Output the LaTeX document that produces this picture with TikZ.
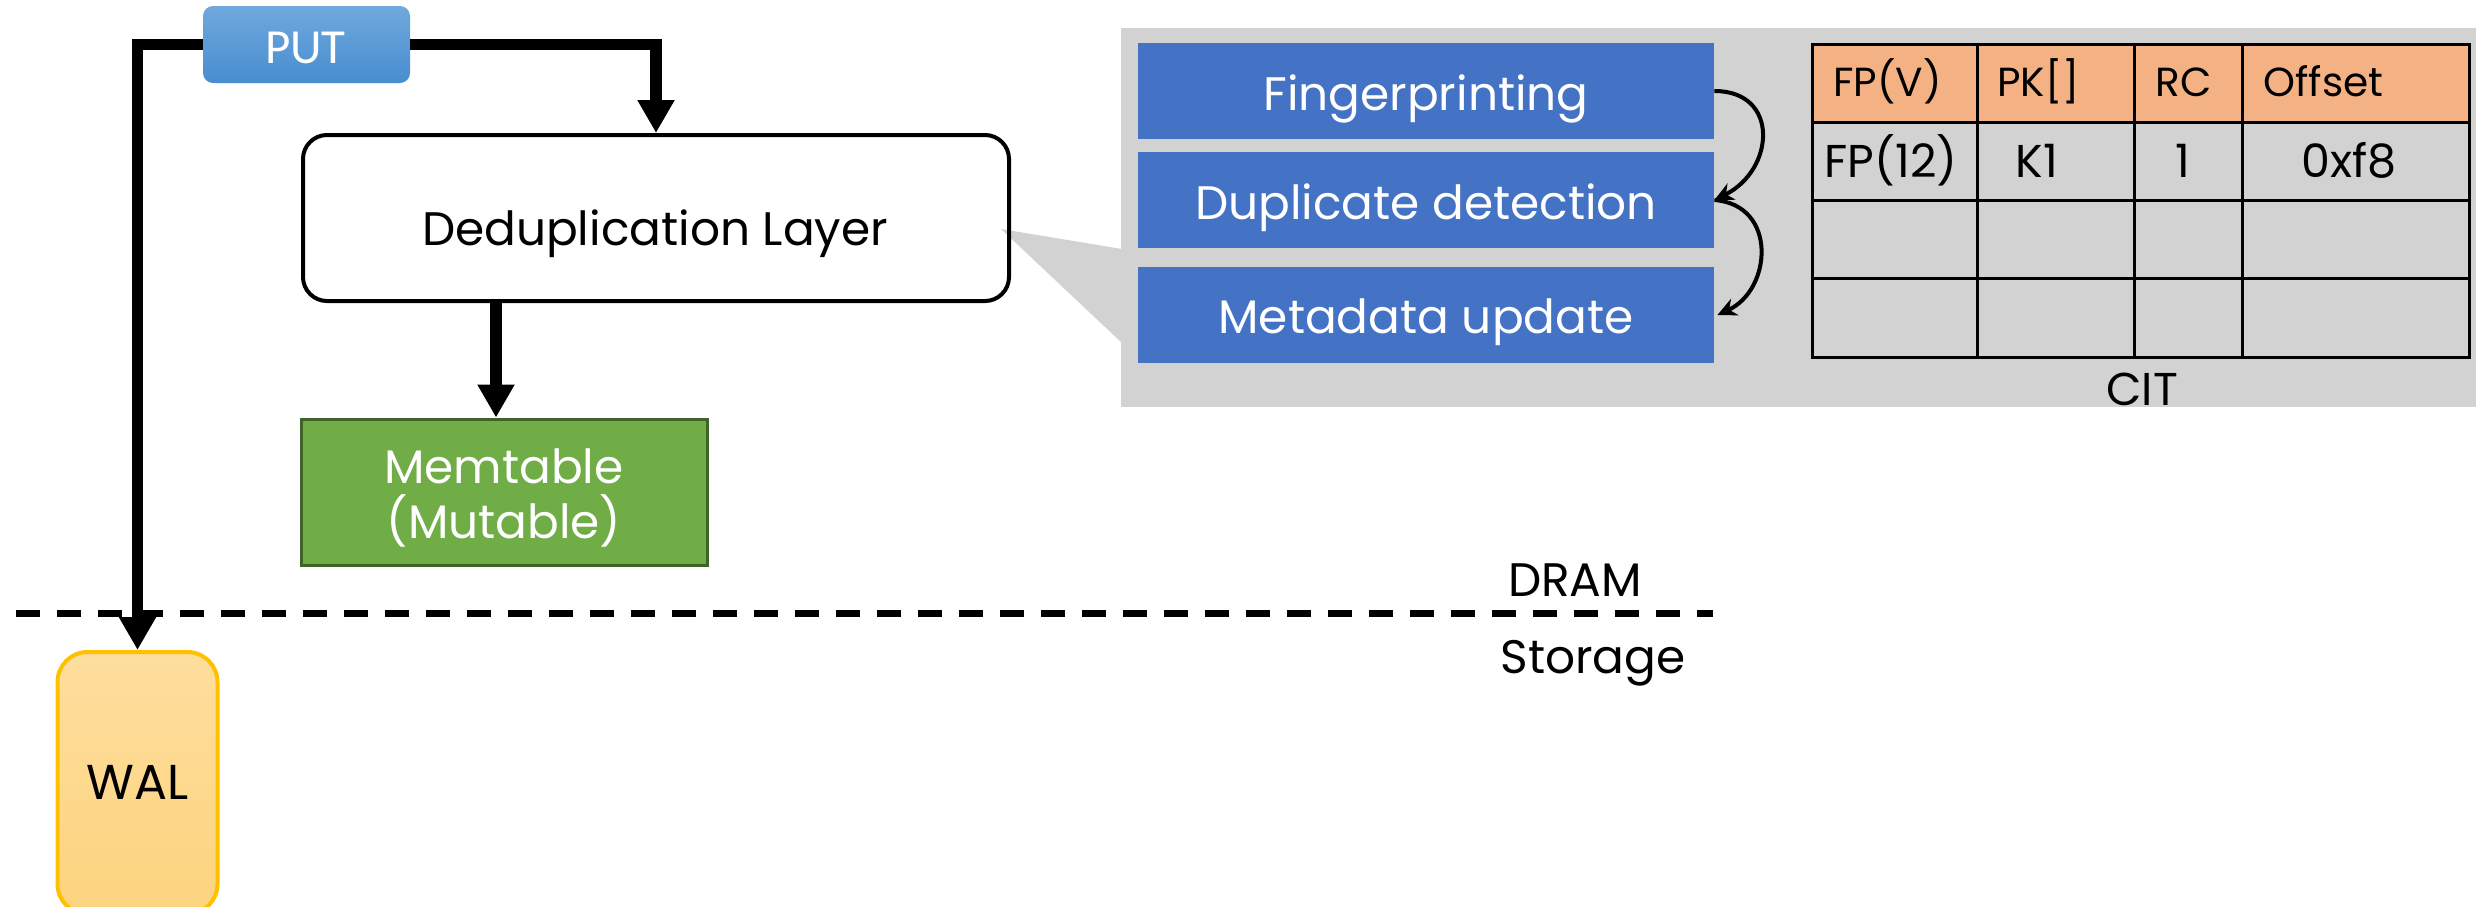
\documentclass[tikz,border=0pt]{standalone}
\usepackage{fontspec}
\usetikzlibrary{arrows.meta}
\newfontfamily\calibri{Carlito}
\newfontfamily\gothic{Poppins}

\definecolor{panelgray}{RGB}{210,210,210}
\definecolor{stepblue}{RGB}{68,114,196}
\definecolor{hdrorange}{RGB}{244,177,131}
\definecolor{memgreen}{RGB}{112,173,71}
\definecolor{memedge}{RGB}{63,100,40}
\definecolor{waledge}{RGB}{255,192,0}
\definecolor{waltop}{RGB}{254,222,158}
\definecolor{walbot}{RGB}{253,212,126}
\definecolor{puttop}{RGB}{112,168,222}
\definecolor{putbot}{RGB}{72,141,206}

\tikzset{
  gtext/.style={font=\gothic\fontsize{23.5}{27.5}\selectfont, inner sep=0pt, anchor=base},
  flow/.style={line width=5.75pt, -{Triangle[length=16.5pt,width=17.5pt]}},
  stepbox/.style={fill=stepblue, minimum width=288pt, minimum height=48pt, inner sep=0pt},
  steptext/.style={gtext, text=white},
  hop/.style={line width=2pt, -{Stealth[length=9.5pt,width=9pt]}},
  cell/.style={font=\gothic\fontsize{20.3}{24}\selectfont, inner sep=0pt, anchor=base west},
  cellbig/.style={font=\gothic\fontsize{23}{26}\selectfont, inner sep=0pt, anchor=base},
  tblline/.style={line width=1.5pt},
  divider/.style={line width=3.5pt, dash pattern=on 12pt off 8.5pt}
}

\begin{document}
\begin{tikzpicture}[x=0.5pt, y=-0.5pt]
\useasboundingbox (0,0) rectangle (2476,906);
\clip (0,0) rectangle (2476,906);

% detail panel with its callout wedge
\fill[panelgray] (1121,28) rectangle (2490,407);
\fill[panelgray] (1001,229) -- (1122,249) -- (1122,343) -- cycle;

% main write path
\node[minimum width=103.5pt, minimum height=38.5pt, rounded corners=5pt,
      top color=puttop, bottom color=putbot, inner sep=0pt] (put) at (306.5,44.5) {};
\node[anchor=base, inner sep=0pt, text=white,
      font=\calibri\fontsize{24.5}{28}\selectfont] (puttext) at (305.5,63) {PUT};

\node[draw, line width=2pt, rounded corners=12pt, minimum width=353pt,
      minimum height=83pt] (dedup) at (656,218) {};
\node[gtext] (deduptext) at (655,245) {Deduplication Layer};

\node[draw=memedge, fill=memgreen, line width=1.5pt, minimum width=203pt,
      minimum height=73pt] (memtable) at (504.5,492) {};
\node[gtext, text=white] (memtext1) at (504,483.5) {Memtable};
\node[gtext, text=white] (memtext2) at (504,538) {(Mutable)};

\node[draw=waledge, line width=2pt, rounded corners=15pt,
      top color=waltop, bottom color=walbot, minimum width=80pt,
      minimum height=131pt] (wal) at (137.5,783) {};
\node[gtext, font=\gothic\fontsize{24.5}{28}\selectfont] (waltext) at (138,799) {WAL};

\draw[flow] (put.west) -| (wal.north);
\draw[flow] (put.east) -| (dedup.north);
\coordinate (memin) at ([xshift=-4.25pt]memtable.north);
\draw[flow] (memin |- dedup.south) -- (memin);

% DRAM / storage boundary
\draw[divider] (16,613) -- (1713,613);
\node[gtext] (dram) at (1575,596) {DRAM};
\node[gtext] (storage) at (1593,673) {Storage};

% deduplication steps
\node[stepbox] (fp) at (1426,91) {};
\node[stepbox] (dd) at (1426,200) {};
\node[stepbox] (mu) at (1426,315) {};
\node[steptext] (fptext) at (1426,110) {Fingerprinting};
\node[steptext] (ddtext) at (1426,219) {Duplicate detection};
\node[steptext] (mutext) at (1426,333) {Metadata update};
\draw[hop] (fp.east) .. controls (1780,91) and (1775,170) .. (dd.east);
\draw[hop] (dd.east) .. controls (1778,205) and (1772,290) .. ([xshift=1.5pt]mu.east);

% content index table
\fill[hdrorange] (1812,44) rectangle (2469,122);
\draw[tblline] (1812,44) rectangle (2469,357);
\foreach \yy in {122,200,278} \draw[tblline] (1812,\yy) -- (2469,\yy);
\foreach \xx in {1977,2134,2242} \draw[tblline] (\xx,44) -- (\xx,357);
\node[cell] (hfp) at (1833,96) {FP(V)};
\node[cell] (hpk) at (1997,96) {PK[]};
\node[cell] (hrc) at (2155,96) {RC};
\node[cell] (hoff) at (2263,96) {Offset};
\node[cellbig] (vfp) at (1891,177) {FP(12)};
\node[cellbig] (vpk) at (2037,177) {K1};
\node[cellbig] (vrc) at (2183,177) {1};
\node[cellbig] (voff) at (2349,177) {0xf8};
\node[cellbig] (cit) at (2142,405) {CIT};
\end{tikzpicture}
\end{document}
